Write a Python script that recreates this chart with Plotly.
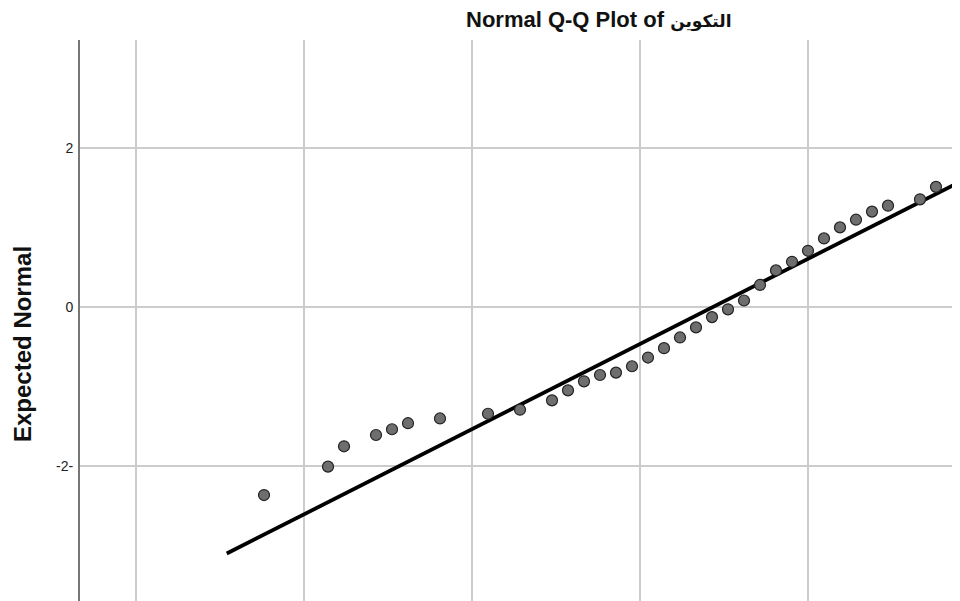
import plotly.graph_objects as go

# Observed values (item means, step 1/21) and expected normal values
observed_k = [8, 12, 13, 15, 16, 17, 19, 22, 24, 26, 27, 28, 29, 30, 31, 32, 33,
              34, 35, 36, 37, 38, 39, 40, 41, 42, 43, 44, 45, 46, 47, 49, 50]
observed = [2 + k / 21 for k in observed_k]
expected = [-2.371, -2.013, -1.756, -1.614, -1.541, -1.465, -1.405, -1.346, -1.295,
            -1.177, -1.051, -0.937, -0.857, -0.827, -0.747, -0.637, -0.519, -0.384,
            -0.257, -0.127, -0.029, 0.082, 0.278, 0.462, 0.570, 0.709, 0.865, 1.004,
            1.101, 1.203, 1.278, 1.358, 1.515]

# Reference line parameters (mean, sd) and its x extent
mean_val = 3.717
sd_val = 0.4655
line_x = [2.27, 4.7]
line_y = [(x - mean_val) / sd_val for x in line_x]

y_tickvals = [-2, 0, 2]
y_ticktext = ["-2-", "0", "2"]

font_fam = "Liberation Sans, Arial, DejaVu Sans, sans-serif"

# page has an 8px body margin; figure sized to fill the rest
W, H = 952, 593
ML, MT = 72, 32
PW, PH = W - ML, H - MT

def px(xp):
    return (xp - 8 - ML) / PW

def py(yp):
    return (H - (yp - 8)) / PH

fig = go.Figure()
fig.add_trace(go.Scatter(x=line_x, y=line_y, mode="lines",
                         line=dict(color="black", width=3.8), hoverinfo="skip"))
fig.add_trace(go.Scatter(x=observed, y=expected, mode="markers",
                         marker=dict(size=11, color="#6e6e6e",
                                     line=dict(color="#222222", width=1.2))))

fig.update_layout(
    width=W, height=H,
    margin=dict(l=ML, r=0, t=MT, b=0),
    paper_bgcolor="white", plot_bgcolor="white",
    showlegend=False,
    font=dict(family=font_fam, color="#222"),
    xaxis=dict(range=[1.8333, 4.4524], tick0=0, dtick=0.5, showticklabels=False,
               showgrid=True, gridcolor="#cccccc", gridwidth=1.5,
               zeroline=False, showline=False, ticks=""),
    yaxis=dict(range=[-3.707, 3.367], tickvals=y_tickvals, ticktext=y_ticktext,
               showgrid=True, gridcolor="#cccccc", gridwidth=1.5,
               zeroline=False, showline=True, linecolor="#777777", linewidth=2,
               ticks="", tickfont=dict(size=14, color="#222"), ticklabelstandoff=2),
    annotations=[
        dict(text="<b>Normal Q-Q Plot of <span style='font-size:17px'>التكوين</span></b>",
             x=px(599), y=py(19),
             xref="paper", yref="paper", xanchor="center", yanchor="middle",
             showarrow=False, font=dict(size=22, color="#111")),
        dict(text="<b>Expected Normal</b>", textangle=-90, x=px(22), y=py(344),
             xref="paper", yref="paper", xanchor="center", yanchor="middle",
             showarrow=False, font=dict(size=24, color="#111")),
    ],
)

fig.write_html("out.html")
